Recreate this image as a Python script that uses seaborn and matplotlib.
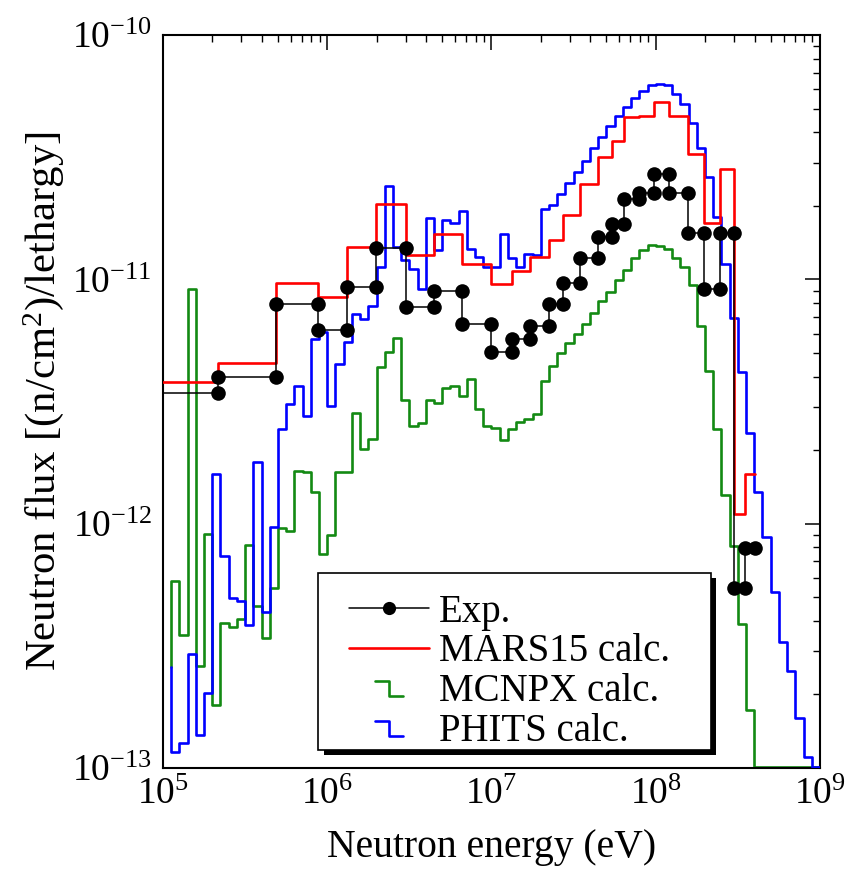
import numpy as np
import pandas as pd
import matplotlib
matplotlib.use("Agg")
import matplotlib.pyplot as plt
import seaborn as sns
from matplotlib.lines import Line2D
from matplotlib.legend_handler import HandlerBase
from matplotlib.patches import Rectangle
from matplotlib.ticker import FixedLocator, NullFormatter, FuncFormatter

# ---------------- data ----------------
# Experimental / MARS15 bin edges (eV)
exp_edges = [5.0e4, 2.168e5, 4.864e5, 8.83e5, 1.326e6, 1.972e6, 3.0e6, 4.467e6,
             6.65e6, 9.91e6, 1.33e7, 1.726e7, 2.228e7, 2.716e7, 3.443e7, 4.426e7,
             5.42e7, 6.435e7, 7.865e7, 9.705e7, 1.197e8, 1.583e8, 1.972e8,
             2.466e8, 3.0e8, 3.5e8, 4.027e8]
exp_flux = [3.43e-12, 3.99e-12, 7.92e-12, 6.2e-12, 9.33e-12, 1.34e-11, 7.73e-12,
            8.98e-12, 6.56e-12, 5.06e-12, 5.70e-12, 6.46e-12, 7.89e-12, 9.63e-12,
            1.219e-11, 1.494e-11, 1.683e-11, 2.126e-11, 2.25e-11, 2.698e-11,
            2.25e-11, 1.543e-11, 9.1e-12, 1.55e-11, 5.43e-13, 7.92e-13]
mars_flux = [3.8e-12, 4.56e-12, 9.63e-12, 8.44e-12, 1.352e-11, 2.03e-11, 1.258e-11,
             1.532e-11, 1.156e-11, 9.53e-12, 1.081e-11, 1.23e-11, 1.448e-11,
             1.834e-11, 2.448e-11, 3.157e-11, 3.69e-11, 4.61e-11, 4.64e-11,
             5.33e-11, 4.66e-11, 3.26e-11, 1.695e-11, 2.83e-11, 1.09e-12, 1.596e-12]

# MCNPX / PHITS: 20 bins per decade, edges 10^5.05 ... 10^9
calc_edges = 10.0 ** np.arange(5.05, 9.0001, 0.05)
calc_start = 2.6e-13
phits_flux = [1.16e-13, 1.26e-13, 2.94e-13, 1.36e-13, 2.03e-13, 1.59e-12, 7.37e-13,
              4.97e-13, 4.82e-13, 3.85e-13, 1.79e-12, 4.36e-13, 9.66e-13, 2.43e-12,
              3.1e-12, 3.67e-12, 2.76e-12, 5.68e-12, 6.1e-12, 3.03e-12, 4.5e-12,
              5.55e-12, 7.21e-12, 6.86e-12, 7.8e-12, 1.127e-11, 2.41e-11, 1.352e-11,
              1.2e-11, 1.099e-11, 9.12e-12, 1.787e-11, 1.318e-11, 1.749e-11,
              1.705e-11, 1.91e-11, 1.33e-11, 1.23e-11, 1.127e-11, 1.12e-11, 1.53e-11,
              1.219e-11, 1.127e-11, 1.265e-11, 1.26e-11, 1.934e-11, 2.014e-11,
              2.235e-11, 2.485e-11, 2.757e-11, 3.06e-11, 3.437e-11, 3.836e-11,
              4.24e-11, 4.66e-11, 5.09e-11, 5.51e-11, 5.9e-11, 6.24e-11, 6.3e-11,
              6.24e-11, 5.73e-11, 5.22e-11, 4.375e-11, 3.457e-11, 2.63e-11,
              1.804e-11, 1.155e-11, 6.96e-12, 4.16e-12, 2.34e-12, 1.35e-12,
              8.84e-13, 5.26e-13, 3.29e-13, 2.49e-13, 1.596e-13, 1.11e-13, 1.01e-13]
mcnpx_flux = [5.82e-13, 3.5e-13, 9.15e-12, 2.62e-13, 9.04e-13, 1.81e-13, 3.91e-13,
              3.79e-13, 4.06e-13, 8.17e-13, 4.6e-13, 3.39e-13, 5.43e-13, 9.57e-13,
              9.33e-13, 1.64e-12, 1.63e-12, 1.35e-12, 7.51e-13, 9.0e-13, 1.62e-12,
              1.62e-12, 2.85e-12, 2.03e-12, 2.23e-12, 4.36e-12, 5.02e-12, 5.73e-12,
              3.21e-12, 2.51e-12, 2.59e-12, 3.2e-12, 3.13e-12, 3.58e-12, 3.66e-12,
              3.34e-12, 3.9e-12, 2.94e-12, 2.5e-12, 2.46e-12, 2.2e-12, 2.43e-12,
              2.6e-12, 2.68e-12, 2.8e-12, 3.82e-12, 4.42e-12, 5.01e-12, 5.5e-12,
              5.95e-12, 6.56e-12, 7.3e-12, 8.15e-12, 8.9e-12, 9.93e-12, 1.092e-11,
              1.219e-11, 1.318e-11, 1.381e-11, 1.37e-11, 1.33e-11, 1.226e-11,
              1.127e-11, 9.48e-12, 6.44e-12, 4.22e-12, 2.43e-12, 1.31e-12, 8.12e-13,
              3.87e-13, 1.73e-13, 1.01e-13, 1.01e-13, 1.01e-13, 1.01e-13, 1.01e-13,
              1.01e-13, 1.01e-13, 1.01e-13]

x_ticks = [1e5, 1e6, 1e7, 1e8, 1e9]
y_ticks = [1e-13, 1e-12, 1e-11, 1e-10]
labels = ["Exp.", "MARS15 calc.", "MCNPX calc.", "PHITS calc."]
colors = {"exp": "black", "mars": "#ff0000", "mcnpx": "#138a13", "phits": "#0000ff"}

# ---------------- style ----------------
sns.set_theme(style="white")
plt.rcParams.update({
    "font.family": ["Liberation Serif", "DejaVu Serif"],
    "mathtext.fontset": "custom",
    "mathtext.rm": "Liberation Serif",
    "mathtext.it": "Liberation Serif:italic",
    "mathtext.bf": "Liberation Serif:bold",
    "text.color": "black",
    "axes.labelcolor": "black",
    "axes.edgecolor": "black",
    "xtick.color": "black",
    "ytick.color": "black",
})

fig = plt.figure(figsize=(8.52, 8.82), dpi=100)
ax = fig.add_axes([0.1913, 0.1293, 0.9624 - 0.1913, 0.9603 - 0.1293])

# ---------------- series ----------------
ex, ey = [exp_edges[0]], [exp_flux[0]]
for i in range(1, len(exp_flux)):
    ex += [exp_edges[i], exp_edges[i]]
    ey += [exp_flux[i - 1], exp_flux[i]]
ex.append(exp_edges[-1]); ey.append(exp_flux[-1])
df_exp = pd.DataFrame({"E": ex, "flux": ey})
mk = [False] + [True] * (len(ex) - 1)

df_mars = pd.DataFrame({"E": exp_edges, "flux": [mars_flux[0]] + mars_flux})
df_phits = pd.DataFrame({"E": calc_edges, "flux": [calc_start] + phits_flux})
df_mcnpx = pd.DataFrame({"E": calc_edges, "flux": [calc_start] + mcnpx_flux})

lw_calc = 1.9
sns.lineplot(data=df_mcnpx, x="E", y="flux", ax=ax, estimator=None, sort=False,
             color=colors["mcnpx"], lw=lw_calc, drawstyle="steps-pre", legend=False, zorder=2)
sns.lineplot(data=df_phits, x="E", y="flux", ax=ax, estimator=None, sort=False,
             color=colors["phits"], lw=lw_calc, drawstyle="steps-pre", legend=False, zorder=3)
sns.lineplot(data=df_mars, x="E", y="flux", ax=ax, estimator=None, sort=False,
             color=colors["mars"], lw=lw_calc, drawstyle="steps-pre", legend=False, zorder=4)
sns.lineplot(data=df_exp, x="E", y="flux", ax=ax, estimator=None, sort=False,
             color=colors["exp"], lw=1.1, marker="o", markersize=10.5,
             markeredgewidth=0, markevery=mk, legend=False, zorder=5)

ax.set_xscale("log")
ax.set_yscale("log")
ax.set_xlim(x_ticks[0], x_ticks[-1])
ax.set_ylim(y_ticks[0], y_ticks[-1])

# ---------------- axes cosmetics ----------------
def fmt(v, pos):
    e = int(round(np.log10(v)))
    return r"$\mathregular{10^{%d}}$" % e

x_minor = [m * t for t in x_ticks[:-1] for m in range(2, 10)]
y_minor = [m * t for t in y_ticks[:-1] for m in range(2, 10)]
ax.xaxis.set_major_locator(FixedLocator(x_ticks))
ax.yaxis.set_major_locator(FixedLocator(y_ticks))
ax.xaxis.set_minor_locator(FixedLocator(x_minor))
ax.yaxis.set_minor_locator(FixedLocator(y_minor))
ax.xaxis.set_major_formatter(FuncFormatter(fmt))
ax.yaxis.set_major_formatter(FuncFormatter(fmt))
ax.xaxis.set_minor_formatter(NullFormatter())
ax.yaxis.set_minor_formatter(NullFormatter())
ax.tick_params(which="both", direction="in", top=True, right=True, labelsize=27)
ax.tick_params(which="major", length=10.5, width=1.1)
ax.tick_params(axis="y", which="major", pad=8)
ax.tick_params(axis="x", which="major", pad=7)
ax.tick_params(which="minor", length=5, width=1.0)
for s in ax.spines.values():
    s.set_linewidth(1.5)

ax.set_xlabel("Neutron energy (eV)", fontsize=28.5, labelpad=12)
ax.set_ylabel(r"Neutron flux [(n/cm$^{2}$)/lethargy]", fontsize=30.8, labelpad=4)

# ---------------- legend ----------------
class HandlerStep(HandlerBase):
    def create_artists(self, legend, orig_handle, xdescent, ydescent,
                       width, height, fontsize, trans):
        x0 = -xdescent + width * 0.33
        x1 = -xdescent + width * 0.50
        x2 = -xdescent + width * 0.68
        yh = -ydescent + height * 0.72
        yl = -ydescent + height * 0.18
        ln = Line2D([x0, x1, x1, x2], [yh, yh, yl, yl],
                    color=orig_handle.get_color(), lw=orig_handle.get_linewidth())
        ln.set_transform(trans)
        return [ln]

# frame + shadow of the legend box (axes coordinates)
box_x0, box_y0, box_w, box_h = 0.2359, 0.0246, 0.598, 0.2415
shadow = Rectangle((box_x0 + 0.0085, box_y0 - 0.0075), box_w, box_h,
                   transform=ax.transAxes, facecolor="black", edgecolor="none",
                   zorder=8, clip_on=False)
frame = Rectangle((box_x0, box_y0), box_w, box_h, transform=ax.transAxes,
                  facecolor="white", edgecolor="black", lw=1.2, zorder=9,
                  clip_on=False)
ax.add_patch(shadow)
ax.add_patch(frame)

h_exp = Line2D([], [], color="black", lw=1.1, marker="o", markersize=9.5, markeredgewidth=0)
h_mars = Line2D([], [], color=colors["mars"], lw=lw_calc)
h_mcnpx = Line2D([], [], color=colors["mcnpx"], lw=lw_calc)
h_phits = Line2D([], [], color=colors["phits"], lw=lw_calc)

leg = ax.legend([h_exp, h_mars, h_mcnpx, h_phits], labels,
                handler_map={h_mcnpx: HandlerStep(), h_phits: HandlerStep()},
                loc="upper left", bbox_to_anchor=(0.283, 0.238),
                fontsize=28, frameon=False, handlelength=2.05,
                handletextpad=0.27, labelspacing=0.07, borderpad=0,
                borderaxespad=0)
leg.set_zorder(10)

fig.savefig("out.png", dpi=100, facecolor="white")
